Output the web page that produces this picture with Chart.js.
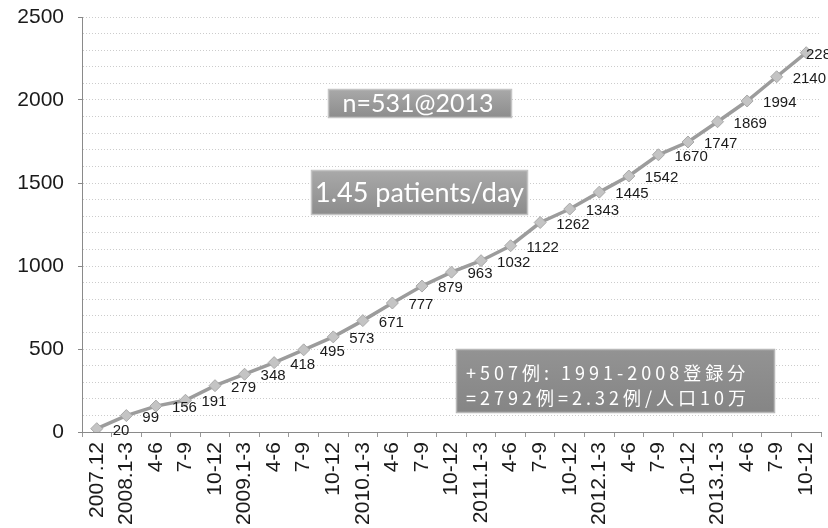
<!DOCTYPE html>
<html><head><meta charset="utf-8">
<script src="https://cdn.jsdelivr.net/npm/chart.js@4/dist/chart.umd.min.js"></script>
<style>html,body{margin:0;padding:0;background:#fff;overflow:hidden}#wrap{width:828px;height:528px;position:relative}</style>
</head><body><div id="wrap"><canvas id="c"></canvas></div>
<script>
const categories = ['2007.12','2008.1-3','4-6','7-9','10-12','2009.1-3','4-6','7-9','10-12','2010.1-3','4-6','7-9','10-12','2011.1-3','4-6','7-9','10-12','2012.1-3','4-6','7-9','10-12','2013.1-3','4-6','7-9','10-12'];
const cumulativePatients = [20,99,156,191,279,348,418,495,573,671,777,879,963,1032,1122,1262,1343,1445,1542,1670,1747,1869,1994,2140,2285];
const yTickLabels = [0,500,1000,1500,2000,2500];
const noteTitle = 'n=531@2013';
const noteRate = '1.45 patients/day';
const noteRegistry = ['+507例: 1991-2008登録分', '=2792例=2.32例/人口10万'];

const FONT = '"Liberation Sans", Arial, sans-serif';

function grayBox(ctx, x, y, w, h, top, bottom, border) {
  const g = ctx.createLinearGradient(0, y, 0, y + h);
  g.addColorStop(0, top); g.addColorStop(1, bottom);
  ctx.fillStyle = g;
  ctx.fillRect(x, y, w, h);
  ctx.strokeStyle = border; ctx.lineWidth = 1.5;
  ctx.strokeRect(x + 0.5, y + 0.5, w - 1, h - 1);
  ctx.fillStyle = '#ffffff';
}

const labelsPlugin = {
  id: 'pointLabels',
  afterDatasetsDraw(chart) {
    const ctx = chart.ctx;
    const meta = chart.getDatasetMeta(0);
    ctx.save();
    ctx.font = '15px ' + FONT;
    ctx.fillStyle = '#1a1a1a';
    ctx.textAlign = 'left';
    ctx.textBaseline = 'middle';
    meta.data.forEach((pt, i) => {
      const txt = String(chart.data.datasets[0].data[i]);
      let x = pt.x + 16;
      if (x > chart.width - 22) x = chart.width - 22;
      ctx.fillText(txt, x, pt.y + 2);
    });
    ctx.restore();
  },
  afterDraw(chart) {
    const ctx = chart.ctx;
    ctx.save();
    ctx.textAlign = 'center'; ctx.textBaseline = 'middle';
    // box 1
    grayBox(ctx, 328, 89, 184, 29, '#a9a9a9', '#8c8c8c', '#c4c4c4');
    ctx.font = '25px Lato, "Open Sans", sans-serif';
    ctx.fillText(noteTitle, 418, 104);
    // box 2
    grayBox(ctx, 311, 170, 217, 45, '#a9a9a9', '#8c8c8c', '#c4c4c4');
    ctx.font = '27px Lato, "Open Sans", sans-serif';
    ctx.fillText(noteRate, 419.5, 193);
    // box 3
    grayBox(ctx, 456, 349, 319, 64, '#939393', '#858585', '#b8b8b8');
    ctx.textAlign = 'left';
    ctx.font = '18px "Noto Sans CJK JP", sans-serif';
    ctx.letterSpacing = '4px';
    ctx.fillText(noteRegistry[0], 466, 373);
    ctx.fillText(noteRegistry[1], 466, 398);
    ctx.restore();
  }
};

new Chart(document.getElementById('c'), {
  type: 'line',
  data: {
    labels: categories,
    datasets: [{
      data: cumulativePatients,
      borderColor: '#9c9c9c',
      borderWidth: 3.5,
      pointStyle: 'rectRot',
      pointRadius: 6,
      pointBackgroundColor: '#c4c4c4',
      pointBorderColor: '#a8a8a8',
      pointBorderWidth: 1,
      tension: 0
    }]
  },
  options: {
    responsive: true,
    maintainAspectRatio: false,
    animation: false,
    events: [],
    layout: { padding: { top: 17, right: 2, left: 0, bottom: 0 } },
    plugins: { legend: { display: false }, tooltip: { enabled: false } },
    scales: {
      x: {
        type: 'category',
        offset: true,
        grid: { display: true, drawOnChartArea: false, offset: true, color: '#999', tickLength: 5 },
        border: { display: true, color: '#8a8a8a', width: 1 },
        ticks: {
          autoSkip: false, maxRotation: 90, minRotation: 90, padding: 5,
          color: '#1a1a1a', font: { family: FONT, size: 21 }
        },
        afterFit(scale) { scale.height = 96; scale.paddingLeft = 0; scale.paddingRight = 0; }
      },
      y: {
        min: 0, max: 2500,
        ticks: {
          stepSize: 100, padding: 14, autoSkip: false,
          color: '#1a1a1a', font: { family: FONT, size: 21 },
          callback: v => (yTickLabels.includes(v) ? String(v) : '')
        },
        grid: {
          color: c => (c.tick && c.tick.value === 0 ? 'rgba(0,0,0,0)' : '#cccccc'),
          tickColor: c => (c.tick && c.tick.value % 500 === 0 ? '#888' : 'rgba(0,0,0,0)'),
          tickLength: 4,
          lineWidth: 1
        },
        border: { display: true, color: '#8a8a8a', width: 1, dash: [1, 2] },
        afterFit(scale) { scale.width = 82; scale.paddingTop = 0; scale.paddingBottom = 0; }
      }
    }
  },
  plugins: [labelsPlugin]
});
</script>
</body></html>
